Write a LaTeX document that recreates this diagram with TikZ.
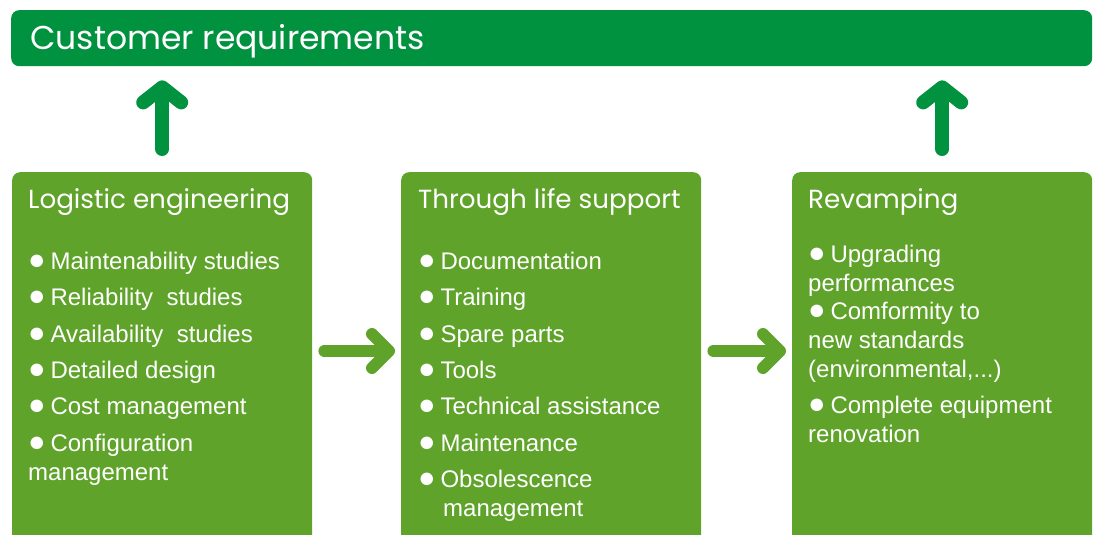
\documentclass[tikz,border=0pt]{standalone}
\usepackage{fontspec}
\setmainfont{Liberation Sans}
\newfontfamily\headfont{Poppins}
\usetikzlibrary{arrows.meta}
\definecolor{darkgreen}{RGB}{0,146,63}
\definecolor{leafgreen}{RGB}{95,163,42}
\newcommand\itm{{\fontsize{29}{29}\selectfont ●}\hspace{0.2em}}
\tikzset{
  panel/.style={fill=leafgreen, rounded corners=8pt, minimum width=300pt,
    minimum height=372pt, anchor=north west, inner sep=0pt},
  heading/.style={text=white, font=\headfont\fontsize{26.2}{30}\selectfont,
    anchor=west, inner sep=0pt},
  items/.style={text=white, font=\fontsize{24}{28.8}\selectfont,
    align=left, anchor=base west, inner sep=0pt},
  uparrow/.style={darkgreen, line width=14pt, line cap=round,
    -{Straight Barb[round,length=15pt,width=38pt]}},
  fwdarrow/.style={leafgreen, line width=12pt, line cap=round,
    -{Straight Barb[round,length=17pt,width=34pt]}}
}
\begin{document}
\begin{tikzpicture}[x=1pt,y=-1pt]
    \useasboundingbox (0,0) rectangle (1100,535);
    %% top banner
    \node[fill=darkgreen, rounded corners=8pt, minimum width=1081pt, minimum height=56pt,
      anchor=north west, inner sep=0pt] (cust) at (11,10) {};
    \node[text=white, font=\headfont\fontsize{33}{38}\selectfont, anchor=west, inner sep=0pt]
      (custtxt) at (30,41) {Customer requirements};
    %% three panels
    \node[panel] (le) at (12,172) {};
    \node[panel] (tls) at (401,172) {};
    \node[panel] (rev) at (792,172) {};
    %% headings
    \node[heading] (lehead) at (28,202) {Logistic engineering};
    \node[heading] (tlshead) at (418,202) {Through life support};
    \node[heading] (revhead) at (808,202) {Revamping};
    %% lists (anchored on the baseline of their last line)
    \node[items] (leitems) at (28,480) {\itm Maintenability studies\\[7.6pt]
      \itm Reliability\ \ studies\\[7.6pt]
      \itm Availability\ \ studies\\[7.6pt]
      \itm Detailed design\\[7.6pt]
      \itm Cost management\\[7.6pt]
      \itm Configuration\\ management};
    \node[items] (tlsitems) at (418,516.5) {\itm Documentation\\[7.6pt]
      \itm Training\\[7.6pt]
      \itm Spare parts\\[7.6pt]
      \itm Tools\\[7.6pt]
      \itm Technical assistance\\[7.6pt]
      \itm Maintenance\\[7.6pt]
      \itm Obsolescence\\ \hspace{25pt}management};
    \node[items] (revitems) at (808,442) {\itm Upgrading\\ performances\\
      \itm Comformity to\\ new standards\\ (environmental,...)\\[7pt]
      \itm Complete equipment\\ renovation};
    %% arrows
    \draw[uparrow, shorten <=23pt, shorten >=14pt] (le.north) -- (le.north |- cust.south);
    \draw[uparrow, shorten <=23pt, shorten >=14pt] (rev.north) -- (rev.north |- cust.south);
    \draw[fwdarrow, shorten <=12pt, shorten >=6pt] (le.east |- 0,351) -- (tls.west |- 0,351);
    \draw[fwdarrow, shorten <=12pt, shorten >=6pt] (tls.east |- 0,351) -- (rev.west |- 0,351);
\end{tikzpicture}
\end{document}
